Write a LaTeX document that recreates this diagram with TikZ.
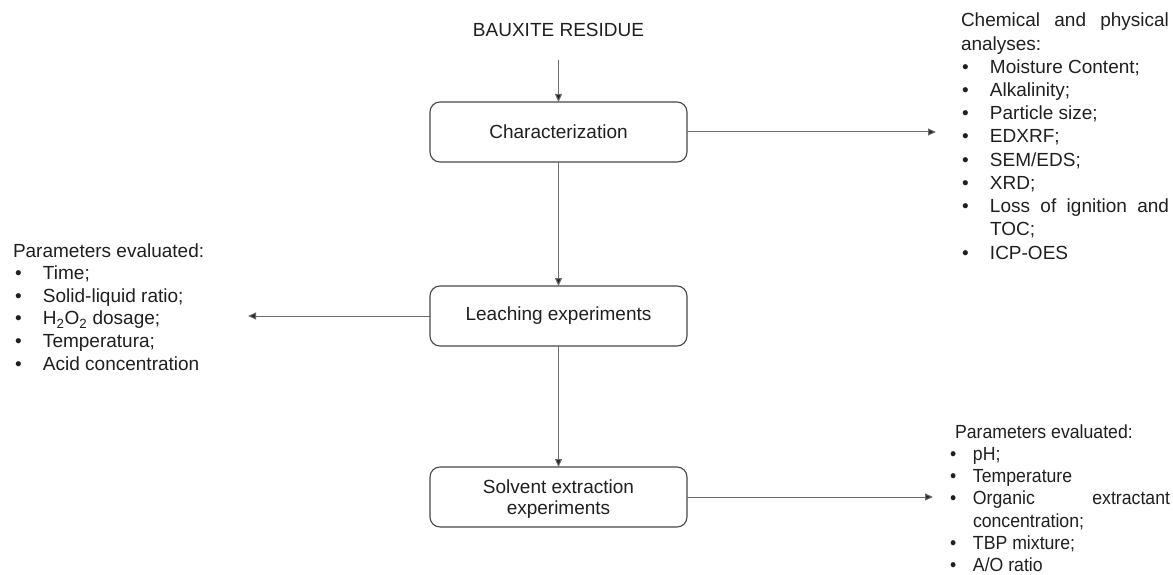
\documentclass[tikz,border=0pt]{standalone}
\usepackage{fontspec}
\setmainfont{Liberation Sans}
\newfontfamily\narrowsans[FakeStretch=0.93]{Liberation Sans}
\usetikzlibrary{arrows.meta}
% one bulleted line: bullet, then the item text after a fixed indent
\newcommand{\bitem}[2][28pt]{\makebox[#1][l]{\textbullet}#2}
\begin{document}
\begin{tikzpicture}[x=1pt,y=-1pt,
  every node/.style={inner sep=0pt, outer sep=0pt, text=black!88,
    font=\fontsize{19}{23}\selectfont},
  stage/.style={draw=black!72, line width=1.1pt, rounded corners=10pt,
    minimum width=257pt, minimum height=60pt, align=center},
  line/.style={anchor=base west},
  sline/.style={anchor=base west, font=\narrowsans\fontsize{19}{22}\selectfont},
  conn/.style={draw=black!58, line width=1pt},
  arr/.style={conn, -{Triangle[length=8pt,width=7pt,fill=black!85]}},
]
\useasboundingbox (0,0) rectangle (1173,575);

% main process chain
\node (bauxite) at (558.5,30) {BAUXITE RESIDUE};
\node[stage] (char)  at (558.5,132) {Characterization};
\node[stage] (leach) at (558.5,316) {Leaching experiments};
\node[stage, text depth=0pt, font=\fontsize{19}{21}\selectfont] (solv) at (558.5,497)
  {Solvent extraction\\experiments};

% free ends of the side arrows
\coordinate (chartip)  at (936,132);
\coordinate (leachtip) at (248,316);
\coordinate (solvtip)  at (933,497);

% analyses list
\node[line] (a0)  at (961,27)    {\makebox[208pt][s]{Chemical and physical}};
\node[line] (a1)  at (961,50.2)  {analyses:};
\node[line] (a2)  at (962,73.4)  {\bitem{Moisture Content;}};
\node[line] (a3)  at (962,96.6)  {\bitem{Alkalinity;}};
\node[line] (a4)  at (962,119.8) {\bitem{Particle size;}};
\node[line] (a5)  at (962,143)   {\bitem{EDXRF;}};
\node[line] (a6)  at (962,166.2) {\bitem{SEM/EDS;}};
\node[line] (a7)  at (962,189.4) {\bitem{XRD;}};
\node[line] (a8)  at (962,212.6) {\bitem{\makebox[179pt][s]{Loss of ignition and}}};
\node[line] (a9)  at (990,235.8) {TOC;};
\node[line] (a10) at (962,259)   {\bitem{ICP-OES}};

% leaching parameters
\node[line] (l0) at (13,257)   {Parameters evaluated:};
\node[line] (l1) at (15,279.6) {\bitem{Time;}};
\node[line] (l2) at (15,302.2) {\bitem{Solid-liquid ratio;}};
\node[line] (l3) at (15,324.8) {\bitem{H\textsubscript{2}O\textsubscript{2} dosage;}};
\node[line] (l4) at (15,347.4) {\bitem{Temperatura;}};
\node[line] (l5) at (15,370)   {\bitem{Acid concentration}};

% solvent extraction parameters
\node[sline] (s0) at (955,438)   {Parameters evaluated:};
\node[sline] (s1) at (950,460.3) {\bitem[23pt]{pH;}};
\node[sline] (s2) at (950,482.6) {\bitem[23pt]{Temperature}};
\node[sline] (s3) at (950,504.9) {\bitem[23pt]{\makebox[197pt][s]{Organic extractant}}};
\node[sline] (s4) at (973,527.2) {concentration;};
\node[sline] (s5) at (950,549.5) {\bitem[23pt]{TBP mixture;}};
\node[sline] (s6) at (950,571.8) {\bitem[23pt]{A/O ratio}};

% connectors
\draw[arr, shorten <=23pt] (bauxite) -- (char);
\draw[arr] (char) -- (leach);
\draw[arr] (leach) -- (solv);
\draw[arr] (char.east) -- (chartip);
\draw[arr] (leach.west) -- (leachtip);
\draw[arr] (solv.east) -- (solvtip);
\end{tikzpicture}
\end{document}
